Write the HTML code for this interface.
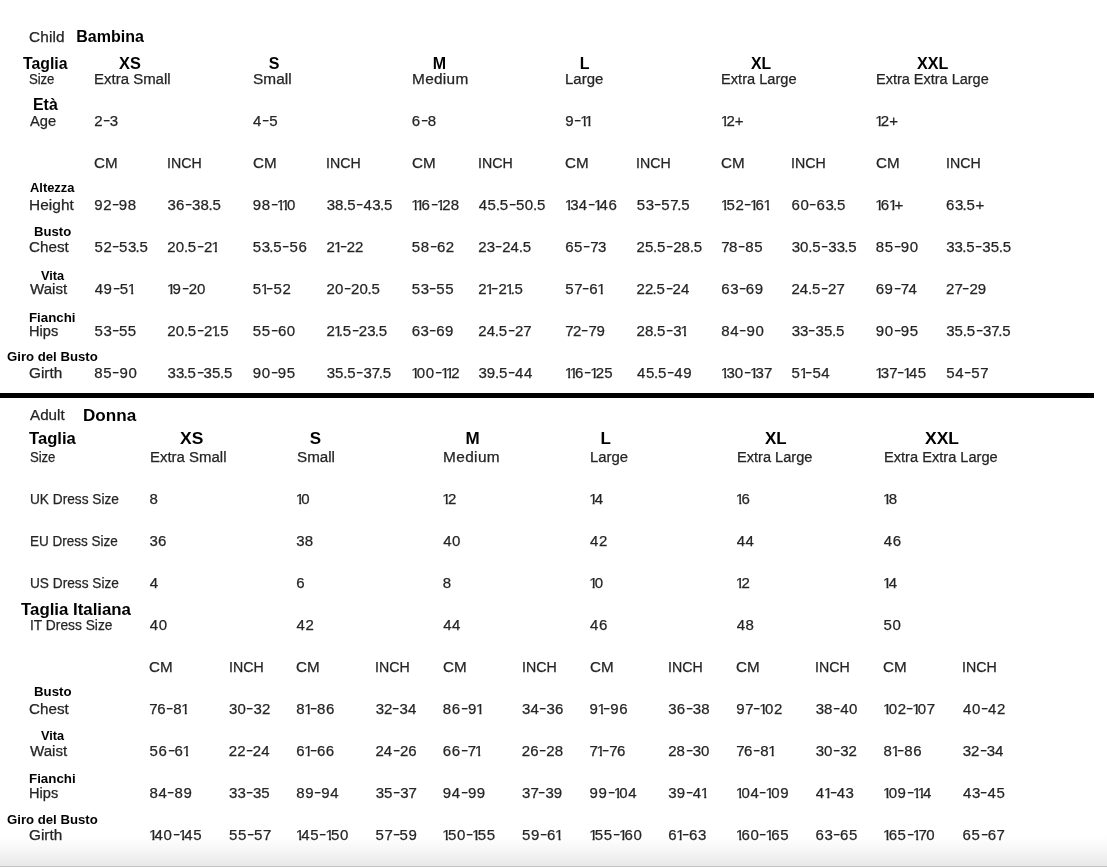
<!DOCTYPE html>
<html><head><meta charset="utf-8"><title>Size chart</title><style>
html,body{margin:0;padding:0;background:#fff;}
body{width:1107px;height:867px;position:relative;overflow:hidden;font-family:"Liberation Sans",sans-serif;}
.t{transform-origin:0 0;position:absolute;white-space:nowrap;line-height:0;height:0;display:block;}
.r,.n{color:#252525;font-weight:400;}
.n{font-size:15px;letter-spacing:0.62px;}
.b{color:#000;font-weight:700;}
.r,.n{-webkit-text-stroke:0.25px #252525;}
i{font-style:normal;}
.o{display:inline-block;letter-spacing:0;margin-left:-0.965px;margin-right:-2.765px;clip-path:polygon(0 -9px,8.5px -9px,8.5px 2.9px,5.5px 2.9px,5.5px 8px,3.37px 8px,3.37px 2.9px,0 2.9px);}
.s{margin-right:-0.6px;}
.v{margin-right:-1.1px;}
.p{margin:0 -0.82px;}
.q{margin:0 -0.1px;}
.h{display:inline-block;letter-spacing:0;transform:translateY(-1px) scaleX(1.45);margin:0 1.08px;}
#txt{position:absolute;left:0;top:0;width:1107px;height:867px;will-change:transform;}
#line{position:absolute;left:0;top:393.3px;width:1094px;height:5px;background:#000;}
#grad{position:absolute;left:0;top:836px;width:1107px;height:30px;background:linear-gradient(to bottom,rgba(255,255,255,0) 0%,rgba(240,240,240,0.55) 45%,#e8e8e8 100%);}
#edge{position:absolute;left:0;top:866px;width:1107px;height:1px;background:#c4c4c4;}
</style></head><body>
<div id="grad"></div><div id="edge"></div><div id="line"></div>
<div id="txt">
<span class="t r" style="left:29.28px;top:37px;font-size:14px;letter-spacing:0.126px;transform:scaleX(1.1000);">Child</span>
<span class="t b" style="left:76.24px;top:37px;font-size:16px;">Bambina</span>
<span class="t b" style="left:22.94px;top:63px;font-size:16.5px;transform:scaleX(0.9592);">Taglia</span>
<span class="t r" style="left:29.46px;top:79px;font-size:14px;letter-spacing:-0.121px;transform:scaleX(0.9400);">Size</span>
<span class="t b" style="left:32.65px;top:105px;font-size:16px;transform:scaleX(0.9927);">Età</span>
<span class="t r" style="left:30.03px;top:121px;font-size:14px;transform:scaleX(1.0502);">Age</span>
<span class="t b" style="left:30.09px;top:188px;font-size:13px;transform:scaleX(0.9919);">Altezza</span>
<span class="t r" style="left:28.70px;top:205px;font-size:14px;letter-spacing:0.062px;transform:scaleX(1.1000);">Height</span>
<span class="t b" style="left:33.83px;top:232px;font-size:13px;transform:scaleX(1.0093);">Busto</span>
<span class="t r" style="left:29.19px;top:247px;font-size:14px;transform:scaleX(1.0872);">Chest</span>
<span class="t b" style="left:40.92px;top:276px;font-size:13px;transform:scaleX(0.9827);">Vita</span>
<span class="t r" style="left:30.20px;top:289px;font-size:14px;transform:scaleX(1.0773);">Waist</span>
<span class="t b" style="left:29.22px;top:318px;font-size:13px;transform:scaleX(1.0221);">Fianchi</span>
<span class="t r" style="left:29.06px;top:331px;font-size:14px;transform:scaleX(1.0433);">Hips</span>
<span class="t b" style="left:6.96px;top:357px;font-size:13px;transform:scaleX(1.0132);">Giro del Busto</span>
<span class="t r" style="left:29.18px;top:373px;font-size:14px;transform:scaleX(1.0962);">Girth</span>
<span class="t b" style="left:118.86px;top:64px;font-size:16px;transform:scaleX(1.0205);">XS</span>
<span class="t r" style="left:94.23px;top:79px;font-size:14px;transform:scaleX(1.0703);">Extra Small</span>
<span class="t b" style="left:268.75px;top:64px;font-size:16px;">S</span>
<span class="t r" style="left:253.16px;top:79px;font-size:14px;letter-spacing:0.046px;transform:scaleX(1.1000);">Small</span>
<span class="t b" style="left:432.64px;top:64px;font-size:16px;">M</span>
<span class="t r" style="left:411.60px;top:79px;font-size:14px;letter-spacing:0.271px;transform:scaleX(1.1000);">Medium</span>
<span class="t b" style="left:579.73px;top:64px;font-size:16px;">L</span>
<span class="t r" style="left:565.13px;top:79px;font-size:14px;transform:scaleX(1.0691);">Large</span>
<span class="t b" style="left:751.41px;top:64px;font-size:16px;transform:scaleX(0.9842);">XL</span>
<span class="t r" style="left:721.26px;top:79px;font-size:14px;transform:scaleX(1.0450);">Extra Large</span>
<span class="t b" style="left:916.66px;top:64px;font-size:16px;transform:scaleX(1.0038);">XXL</span>
<span class="t r" style="left:875.67px;top:79px;font-size:14px;transform:scaleX(1.0346);">Extra Extra Large</span>
<span class="t n" style="left:94.25px;top:121px;"><i class="s">2</i><i class="h">-</i><i class="s">3</i></span>
<span class="t n" style="left:253.06px;top:121px;">4<i class="h">-</i>5</span>
<span class="t n" style="left:411.65px;top:121px;">6<i class="h">-</i>8</span>
<span class="t n" style="left:565.20px;top:121px;">9<i class="h">-</i><i class="o">1</i><i class="o">1</i></span>
<span class="t n" style="left:721.82px;top:121px;"><i class="o">1</i><i class="s">2</i><i class="q">+</i></span>
<span class="t n" style="left:876.22px;top:121px;"><i class="o">1</i><i class="s">2</i><i class="q">+</i></span>
<span class="t r" style="left:94.29px;top:163px;font-size:14px;transform:scaleX(1.0842);">CM</span>
<span class="t r" style="left:167.25px;top:163px;font-size:14px;transform:scaleX(1.0127);">INCH</span>
<span class="t r" style="left:252.69px;top:163px;font-size:14px;transform:scaleX(1.0842);">CM</span>
<span class="t r" style="left:326.45px;top:163px;font-size:14px;transform:scaleX(1.0127);">INCH</span>
<span class="t r" style="left:411.69px;top:163px;font-size:14px;transform:scaleX(1.0842);">CM</span>
<span class="t r" style="left:478.15px;top:163px;font-size:14px;transform:scaleX(1.0127);">INCH</span>
<span class="t r" style="left:565.19px;top:163px;font-size:14px;transform:scaleX(1.0842);">CM</span>
<span class="t r" style="left:636.45px;top:163px;font-size:14px;transform:scaleX(1.0127);">INCH</span>
<span class="t r" style="left:721.29px;top:163px;font-size:14px;transform:scaleX(1.0842);">CM</span>
<span class="t r" style="left:791.35px;top:163px;font-size:14px;transform:scaleX(1.0127);">INCH</span>
<span class="t r" style="left:875.69px;top:163px;font-size:14px;transform:scaleX(1.0842);">CM</span>
<span class="t r" style="left:945.95px;top:163px;font-size:14px;transform:scaleX(1.0127);">INCH</span>
<span class="t n" style="left:94.30px;top:205px;">9<i class="s">2</i><i class="h">-</i>98</span>
<span class="t n" style="left:167.54px;top:205px;"><i class="s">3</i>6<i class="h">-</i><i class="s">3</i>8<i class="p">.</i>5</span>
<span class="t n" style="left:252.70px;top:205px;">98<i class="h">-</i><i class="o">1</i><i class="o">1</i>0</span>
<span class="t n" style="left:326.74px;top:205px;"><i class="s">3</i>8<i class="p">.</i>5<i class="h">-</i>4<i class="s">3</i><i class="p">.</i>5</span>
<span class="t n" style="left:412.22px;top:205px;"><i class="o">1</i><i class="o">1</i>6<i class="h">-</i><i class="o">1</i><i class="s">2</i>8</span>
<span class="t n" style="left:478.66px;top:205px;">45<i class="p">.</i>5<i class="h">-</i>50<i class="p">.</i>5</span>
<span class="t n" style="left:565.72px;top:205px;"><i class="o">1</i><i class="s">3</i>4<i class="h">-</i><i class="o">1</i>46</span>
<span class="t n" style="left:636.71px;top:205px;">5<i class="s">3</i><i class="h">-</i>5<i class="v">7</i><i class="p">.</i>5</span>
<span class="t n" style="left:721.82px;top:205px;"><i class="o">1</i>5<i class="s">2</i><i class="h">-</i><i class="o">1</i>6<i class="o">1</i></span>
<span class="t n" style="left:791.45px;top:205px;">60<i class="h">-</i>6<i class="s">3</i><i class="p">.</i>5</span>
<span class="t n" style="left:876.22px;top:205px;"><i class="o">1</i>6<i class="o">1</i><i class="q">+</i></span>
<span class="t n" style="left:946.05px;top:205px;">6<i class="s">3</i><i class="p">.</i>5<i class="q">+</i></span>
<span class="t n" style="left:94.41px;top:247px;">5<i class="s">2</i><i class="h">-</i>5<i class="s">3</i><i class="p">.</i>5</span>
<span class="t n" style="left:167.35px;top:247px;"><i class="s">2</i>0<i class="p">.</i>5<i class="h">-</i><i class="s">2</i><i class="o">1</i></span>
<span class="t n" style="left:252.81px;top:247px;">5<i class="s">3</i><i class="p">.</i>5<i class="h">-</i>56</span>
<span class="t n" style="left:326.55px;top:247px;"><i class="s">2</i><i class="o">1</i><i class="h">-</i><i class="s">2</i><i class="s">2</i></span>
<span class="t n" style="left:411.81px;top:247px;">58<i class="h">-</i>6<i class="s">2</i></span>
<span class="t n" style="left:478.25px;top:247px;"><i class="s">2</i><i class="s">3</i><i class="h">-</i><i class="s">2</i>4<i class="p">.</i>5</span>
<span class="t n" style="left:565.15px;top:247px;">65<i class="h">-</i><i class="v">7</i><i class="s">3</i></span>
<span class="t n" style="left:636.55px;top:247px;"><i class="s">2</i>5<i class="p">.</i>5<i class="h">-</i><i class="s">2</i>8<i class="p">.</i>5</span>
<span class="t n" style="left:721.23px;top:247px;"><i class="v">7</i>8<i class="h">-</i>85</span>
<span class="t n" style="left:791.64px;top:247px;"><i class="s">3</i>0<i class="p">.</i>5<i class="h">-</i><i class="s">3</i><i class="s">3</i><i class="p">.</i>5</span>
<span class="t n" style="left:875.76px;top:247px;">85<i class="h">-</i>90</span>
<span class="t n" style="left:946.24px;top:247px;"><i class="s">3</i><i class="s">3</i><i class="p">.</i>5<i class="h">-</i><i class="s">3</i>5<i class="p">.</i>5</span>
<span class="t n" style="left:94.66px;top:289px;">49<i class="h">-</i>5<i class="o">1</i></span>
<span class="t n" style="left:167.92px;top:289px;"><i class="o">1</i>9<i class="h">-</i><i class="s">2</i>0</span>
<span class="t n" style="left:252.81px;top:289px;">5<i class="o">1</i><i class="h">-</i>5<i class="s">2</i></span>
<span class="t n" style="left:326.55px;top:289px;"><i class="s">2</i>0<i class="h">-</i><i class="s">2</i>0<i class="p">.</i>5</span>
<span class="t n" style="left:411.81px;top:289px;">5<i class="s">3</i><i class="h">-</i>55</span>
<span class="t n" style="left:478.25px;top:289px;"><i class="s">2</i><i class="o">1</i><i class="h">-</i><i class="s">2</i><i class="o">1</i><i class="p">.</i>5</span>
<span class="t n" style="left:565.31px;top:289px;">5<i class="v">7</i><i class="h">-</i>6<i class="o">1</i></span>
<span class="t n" style="left:636.55px;top:289px;"><i class="s">2</i><i class="s">2</i><i class="p">.</i>5<i class="h">-</i><i class="s">2</i>4</span>
<span class="t n" style="left:721.25px;top:289px;">6<i class="s">3</i><i class="h">-</i>69</span>
<span class="t n" style="left:791.45px;top:289px;"><i class="s">2</i>4<i class="p">.</i>5<i class="h">-</i><i class="s">2</i><i class="v">7</i></span>
<span class="t n" style="left:875.65px;top:289px;">69<i class="h">-</i><i class="v">7</i>4</span>
<span class="t n" style="left:946.05px;top:289px;"><i class="s">2</i><i class="v">7</i><i class="h">-</i><i class="s">2</i>9</span>
<span class="t n" style="left:94.41px;top:331px;">5<i class="s">3</i><i class="h">-</i>55</span>
<span class="t n" style="left:167.35px;top:331px;"><i class="s">2</i>0<i class="p">.</i>5<i class="h">-</i><i class="s">2</i><i class="o">1</i><i class="p">.</i>5</span>
<span class="t n" style="left:252.81px;top:331px;">55<i class="h">-</i>60</span>
<span class="t n" style="left:326.55px;top:331px;"><i class="s">2</i><i class="o">1</i><i class="p">.</i>5<i class="h">-</i><i class="s">2</i><i class="s">3</i><i class="p">.</i>5</span>
<span class="t n" style="left:411.65px;top:331px;">6<i class="s">3</i><i class="h">-</i>69</span>
<span class="t n" style="left:478.25px;top:331px;"><i class="s">2</i>4<i class="p">.</i>5<i class="h">-</i><i class="s">2</i><i class="v">7</i></span>
<span class="t n" style="left:565.13px;top:331px;"><i class="v">7</i><i class="s">2</i><i class="h">-</i><i class="v">7</i>9</span>
<span class="t n" style="left:636.55px;top:331px;"><i class="s">2</i>8<i class="p">.</i>5<i class="h">-</i><i class="s">3</i><i class="o">1</i></span>
<span class="t n" style="left:721.36px;top:331px;">84<i class="h">-</i>90</span>
<span class="t n" style="left:791.64px;top:331px;"><i class="s">3</i><i class="s">3</i><i class="h">-</i><i class="s">3</i>5<i class="p">.</i>5</span>
<span class="t n" style="left:875.70px;top:331px;">90<i class="h">-</i>95</span>
<span class="t n" style="left:946.24px;top:331px;"><i class="s">3</i>5<i class="p">.</i>5<i class="h">-</i><i class="s">3</i><i class="v">7</i><i class="p">.</i>5</span>
<span class="t n" style="left:94.36px;top:373px;">85<i class="h">-</i>90</span>
<span class="t n" style="left:167.54px;top:373px;"><i class="s">3</i><i class="s">3</i><i class="p">.</i>5<i class="h">-</i><i class="s">3</i>5<i class="p">.</i>5</span>
<span class="t n" style="left:252.70px;top:373px;">90<i class="h">-</i>95</span>
<span class="t n" style="left:326.74px;top:373px;"><i class="s">3</i>5<i class="p">.</i>5<i class="h">-</i><i class="s">3</i><i class="v">7</i><i class="p">.</i>5</span>
<span class="t n" style="left:412.22px;top:373px;"><i class="o">1</i>00<i class="h">-</i><i class="o">1</i><i class="o">1</i><i class="s">2</i></span>
<span class="t n" style="left:478.44px;top:373px;"><i class="s">3</i>9<i class="p">.</i>5<i class="h">-</i>44</span>
<span class="t n" style="left:565.72px;top:373px;"><i class="o">1</i><i class="o">1</i>6<i class="h">-</i><i class="o">1</i><i class="s">2</i>5</span>
<span class="t n" style="left:636.96px;top:373px;">45<i class="p">.</i>5<i class="h">-</i>49</span>
<span class="t n" style="left:721.82px;top:373px;"><i class="o">1</i><i class="s">3</i>0<i class="h">-</i><i class="o">1</i><i class="s">3</i><i class="v">7</i></span>
<span class="t n" style="left:791.61px;top:373px;">5<i class="o">1</i><i class="h">-</i>54</span>
<span class="t n" style="left:876.22px;top:373px;"><i class="o">1</i><i class="s">3</i><i class="v">7</i><i class="h">-</i><i class="o">1</i>45</span>
<span class="t n" style="left:946.21px;top:373px;">54<i class="h">-</i>5<i class="v">7</i></span>
<span class="t r" style="left:29.93px;top:415px;font-size:14px;transform:scaleX(1.0850);">Adult</span>
<span class="t b" style="left:83.17px;top:416px;font-size:17px;transform:scaleX(1.0063);">Donna</span>
<span class="t b" style="left:29.13px;top:438px;font-size:16.5px;transform:scaleX(1.0067);">Taglia</span>
<span class="t r" style="left:29.76px;top:457px;font-size:14px;letter-spacing:-0.121px;transform:scaleX(0.9400);">Size</span>
<span class="t r" style="left:29.80px;top:499px;font-size:14px;transform:scaleX(0.9762);">UK Dress Size</span>
<span class="t r" style="left:29.75px;top:541px;font-size:14px;transform:scaleX(0.9645);">EU Dress Size</span>
<span class="t r" style="left:29.80px;top:583px;font-size:14px;transform:scaleX(0.9762);">US Dress Size</span>
<span class="t b" style="left:20.52px;top:609px;font-size:16.5px;transform:scaleX(1.0192);">Taglia Italiana</span>
<span class="t r" style="left:29.59px;top:625px;font-size:14px;transform:scaleX(0.9846);">IT Dress Size</span>
<span class="t b" style="left:33.73px;top:692px;font-size:13px;transform:scaleX(1.0178);">Busto</span>
<span class="t r" style="left:29.19px;top:709px;font-size:14px;transform:scaleX(1.0872);">Chest</span>
<span class="t b" style="left:41.12px;top:736px;font-size:13px;transform:scaleX(0.9784);">Vita</span>
<span class="t r" style="left:30.20px;top:751px;font-size:14px;transform:scaleX(1.0773);">Waist</span>
<span class="t b" style="left:29.22px;top:779px;font-size:13px;transform:scaleX(1.0267);">Fianchi</span>
<span class="t r" style="left:29.06px;top:793px;font-size:14px;transform:scaleX(1.0433);">Hips</span>
<span class="t b" style="left:6.96px;top:820px;font-size:13px;transform:scaleX(1.0132);">Giro del Busto</span>
<span class="t r" style="left:29.18px;top:835px;font-size:14px;transform:scaleX(1.0962);">Girth</span>
<span class="t b" style="left:179.61px;top:439px;font-size:17px;transform:scaleX(1.0278);">XS</span>
<span class="t r" style="left:149.93px;top:457px;font-size:14px;transform:scaleX(1.0688);">Extra Small</span>
<span class="t b" style="left:309.71px;top:439px;font-size:17px;">S</span>
<span class="t r" style="left:297.27px;top:457px;font-size:14px;transform:scaleX(1.0851);">Small</span>
<span class="t b" style="left:465.52px;top:439px;font-size:17px;">M</span>
<span class="t r" style="left:443.30px;top:457px;font-size:14px;letter-spacing:0.344px;transform:scaleX(1.1000);">Medium</span>
<span class="t b" style="left:600.50px;top:439px;font-size:17px;">L</span>
<span class="t r" style="left:590.14px;top:457px;font-size:14px;transform:scaleX(1.0632);">Large</span>
<span class="t b" style="left:764.86px;top:439px;font-size:17px;transform:scaleX(0.9963);">XL</span>
<span class="t r" style="left:736.86px;top:457px;font-size:14px;transform:scaleX(1.0421);">Extra Large</span>
<span class="t b" style="left:924.61px;top:439px;font-size:17px;transform:scaleX(1.0276);">XXL</span>
<span class="t r" style="left:884.06px;top:457px;font-size:14px;transform:scaleX(1.0440);">Extra Extra Large</span>
<span class="t n" style="left:149.46px;top:499px;">8</span>
<span class="t n" style="left:296.72px;top:499px;"><i class="o">1</i>0</span>
<span class="t n" style="left:443.32px;top:499px;"><i class="o">1</i><i class="s">2</i></span>
<span class="t n" style="left:590.12px;top:499px;"><i class="o">1</i>4</span>
<span class="t n" style="left:736.82px;top:499px;"><i class="o">1</i>6</span>
<span class="t n" style="left:884.02px;top:499px;"><i class="o">1</i>8</span>
<span class="t n" style="left:149.54px;top:541px;"><i class="s">3</i>6</span>
<span class="t n" style="left:296.34px;top:541px;"><i class="s">3</i>8</span>
<span class="t n" style="left:443.16px;top:541px;">40</span>
<span class="t n" style="left:589.96px;top:541px;">4<i class="s">2</i></span>
<span class="t n" style="left:736.66px;top:541px;">44</span>
<span class="t n" style="left:883.86px;top:541px;">46</span>
<span class="t n" style="left:149.76px;top:583px;">4</span>
<span class="t n" style="left:296.15px;top:583px;">6</span>
<span class="t n" style="left:442.86px;top:583px;">8</span>
<span class="t n" style="left:590.12px;top:583px;"><i class="o">1</i>0</span>
<span class="t n" style="left:736.82px;top:583px;"><i class="o">1</i><i class="s">2</i></span>
<span class="t n" style="left:884.02px;top:583px;"><i class="o">1</i>4</span>
<span class="t n" style="left:149.76px;top:625px;">40</span>
<span class="t n" style="left:296.56px;top:625px;">4<i class="s">2</i></span>
<span class="t n" style="left:443.16px;top:625px;">44</span>
<span class="t n" style="left:589.96px;top:625px;">46</span>
<span class="t n" style="left:736.66px;top:625px;">48</span>
<span class="t n" style="left:883.61px;top:625px;">50</span>
<span class="t r" style="left:149.39px;top:667px;font-size:14px;transform:scaleX(1.0842);">CM</span>
<span class="t r" style="left:228.75px;top:667px;font-size:14px;transform:scaleX(1.0127);">INCH</span>
<span class="t r" style="left:296.19px;top:667px;font-size:14px;transform:scaleX(1.0842);">CM</span>
<span class="t r" style="left:375.35px;top:667px;font-size:14px;transform:scaleX(1.0127);">INCH</span>
<span class="t r" style="left:442.79px;top:667px;font-size:14px;transform:scaleX(1.0842);">CM</span>
<span class="t r" style="left:521.75px;top:667px;font-size:14px;transform:scaleX(1.0127);">INCH</span>
<span class="t r" style="left:589.59px;top:667px;font-size:14px;transform:scaleX(1.0842);">CM</span>
<span class="t r" style="left:668.05px;top:667px;font-size:14px;transform:scaleX(1.0127);">INCH</span>
<span class="t r" style="left:736.29px;top:667px;font-size:14px;transform:scaleX(1.0842);">CM</span>
<span class="t r" style="left:815.35px;top:667px;font-size:14px;transform:scaleX(1.0127);">INCH</span>
<span class="t r" style="left:883.49px;top:667px;font-size:14px;transform:scaleX(1.0842);">CM</span>
<span class="t r" style="left:962.45px;top:667px;font-size:14px;transform:scaleX(1.0127);">INCH</span>
<span class="t n" style="left:149.33px;top:709px;"><i class="v">7</i>6<i class="h">-</i>8<i class="o">1</i></span>
<span class="t n" style="left:229.04px;top:709px;"><i class="s">3</i>0<i class="h">-</i><i class="s">3</i><i class="s">2</i></span>
<span class="t n" style="left:296.26px;top:709px;">8<i class="o">1</i><i class="h">-</i>86</span>
<span class="t n" style="left:375.64px;top:709px;"><i class="s">3</i><i class="s">2</i><i class="h">-</i><i class="s">3</i>4</span>
<span class="t n" style="left:442.86px;top:709px;">86<i class="h">-</i>9<i class="o">1</i></span>
<span class="t n" style="left:522.04px;top:709px;"><i class="s">3</i>4<i class="h">-</i><i class="s">3</i>6</span>
<span class="t n" style="left:589.60px;top:709px;">9<i class="o">1</i><i class="h">-</i>96</span>
<span class="t n" style="left:668.34px;top:709px;"><i class="s">3</i>6<i class="h">-</i><i class="s">3</i>8</span>
<span class="t n" style="left:736.30px;top:709px;">9<i class="v">7</i><i class="h">-</i><i class="o">1</i>0<i class="s">2</i></span>
<span class="t n" style="left:815.64px;top:709px;"><i class="s">3</i>8<i class="h">-</i>40</span>
<span class="t n" style="left:884.02px;top:709px;"><i class="o">1</i>0<i class="s">2</i><i class="h">-</i><i class="o">1</i>0<i class="v">7</i></span>
<span class="t n" style="left:962.96px;top:709px;">40<i class="h">-</i>4<i class="s">2</i></span>
<span class="t n" style="left:149.51px;top:751px;">56<i class="h">-</i>6<i class="o">1</i></span>
<span class="t n" style="left:228.85px;top:751px;"><i class="s">2</i><i class="s">2</i><i class="h">-</i><i class="s">2</i>4</span>
<span class="t n" style="left:296.15px;top:751px;">6<i class="o">1</i><i class="h">-</i>66</span>
<span class="t n" style="left:375.45px;top:751px;"><i class="s">2</i>4<i class="h">-</i><i class="s">2</i>6</span>
<span class="t n" style="left:442.75px;top:751px;">66<i class="h">-</i><i class="v">7</i><i class="o">1</i></span>
<span class="t n" style="left:521.85px;top:751px;"><i class="s">2</i>6<i class="h">-</i><i class="s">2</i>8</span>
<span class="t n" style="left:589.53px;top:751px;"><i class="v">7</i><i class="o">1</i><i class="h">-</i><i class="v">7</i>6</span>
<span class="t n" style="left:668.15px;top:751px;"><i class="s">2</i>8<i class="h">-</i><i class="s">3</i>0</span>
<span class="t n" style="left:736.23px;top:751px;"><i class="v">7</i>6<i class="h">-</i>8<i class="o">1</i></span>
<span class="t n" style="left:815.64px;top:751px;"><i class="s">3</i>0<i class="h">-</i><i class="s">3</i><i class="s">2</i></span>
<span class="t n" style="left:883.56px;top:751px;">8<i class="o">1</i><i class="h">-</i>86</span>
<span class="t n" style="left:962.74px;top:751px;"><i class="s">3</i><i class="s">2</i><i class="h">-</i><i class="s">3</i>4</span>
<span class="t n" style="left:149.46px;top:793px;">84<i class="h">-</i>89</span>
<span class="t n" style="left:229.04px;top:793px;"><i class="s">3</i><i class="s">3</i><i class="h">-</i><i class="s">3</i>5</span>
<span class="t n" style="left:296.26px;top:793px;">89<i class="h">-</i>94</span>
<span class="t n" style="left:375.64px;top:793px;"><i class="s">3</i>5<i class="h">-</i><i class="s">3</i><i class="v">7</i></span>
<span class="t n" style="left:442.80px;top:793px;">94<i class="h">-</i>99</span>
<span class="t n" style="left:522.04px;top:793px;"><i class="s">3</i><i class="v">7</i><i class="h">-</i><i class="s">3</i>9</span>
<span class="t n" style="left:589.60px;top:793px;">99<i class="h">-</i><i class="o">1</i>04</span>
<span class="t n" style="left:668.34px;top:793px;"><i class="s">3</i>9<i class="h">-</i>4<i class="o">1</i></span>
<span class="t n" style="left:736.82px;top:793px;"><i class="o">1</i>04<i class="h">-</i><i class="o">1</i>09</span>
<span class="t n" style="left:815.86px;top:793px;">4<i class="o">1</i><i class="h">-</i>4<i class="s">3</i></span>
<span class="t n" style="left:884.02px;top:793px;"><i class="o">1</i>09<i class="h">-</i><i class="o">1</i><i class="o">1</i>4</span>
<span class="t n" style="left:962.96px;top:793px;">4<i class="s">3</i><i class="h">-</i>45</span>
<span class="t n" style="left:149.92px;top:835px;"><i class="o">1</i>40<i class="h">-</i><i class="o">1</i>45</span>
<span class="t n" style="left:229.01px;top:835px;">55<i class="h">-</i>5<i class="v">7</i></span>
<span class="t n" style="left:296.72px;top:835px;"><i class="o">1</i>45<i class="h">-</i><i class="o">1</i>50</span>
<span class="t n" style="left:375.61px;top:835px;">5<i class="v">7</i><i class="h">-</i>59</span>
<span class="t n" style="left:443.32px;top:835px;"><i class="o">1</i>50<i class="h">-</i><i class="o">1</i>55</span>
<span class="t n" style="left:522.01px;top:835px;">59<i class="h">-</i>6<i class="o">1</i></span>
<span class="t n" style="left:590.12px;top:835px;"><i class="o">1</i>55<i class="h">-</i><i class="o">1</i>60</span>
<span class="t n" style="left:668.15px;top:835px;">6<i class="o">1</i><i class="h">-</i>6<i class="s">3</i></span>
<span class="t n" style="left:736.82px;top:835px;"><i class="o">1</i>60<i class="h">-</i><i class="o">1</i>65</span>
<span class="t n" style="left:815.45px;top:835px;">6<i class="s">3</i><i class="h">-</i>65</span>
<span class="t n" style="left:884.02px;top:835px;"><i class="o">1</i>65<i class="h">-</i><i class="o">1</i><i class="v">7</i>0</span>
<span class="t n" style="left:962.55px;top:835px;">65<i class="h">-</i>6<i class="v">7</i></span>
</div>
</body></html>
